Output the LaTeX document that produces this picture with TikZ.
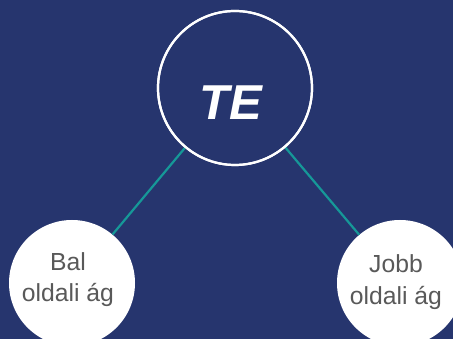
\documentclass[tikz,border=0pt]{standalone}
\usepackage{fontspec}
\setmainfont{Liberation Sans}
\definecolor{bgblue}{RGB}{38,53,110}
\definecolor{tealline}{RGB}{22,152,152}
\definecolor{txtgray}{RGB}{89,89,89}
\begin{document}
\begin{tikzpicture}[x=1pt,y=1pt,
  bubble/.style={circle,fill=white,draw=none,minimum size=126pt,inner sep=0pt},
  mainring/.style={circle,draw=white,line width=2.2pt,minimum size=154pt,inner sep=0pt},
  branchtxt/.style={align=center,text=txtgray,font=\fontsize{24.7pt}{31.7pt}\selectfont,inner sep=0pt},
  link/.style={draw=tealline,line width=2.2pt}]
\fill[bgblue] (0,0) rectangle (453,339);
\useasboundingbox (0,0) rectangle (453,339);
\node[mainring] (te) at (235,251) {};
\node[bubble] (left) at (72,56) {};
\node[bubble] (right) at (400,56) {};
\draw[link] (te) -- (left);
\draw[link] (te) -- (right);
\node[mainring] at (te.center) {};
\node[text=white,font=\fontsize{49pt}{49pt}\selectfont\bfseries\itshape,inner sep=0pt] (telabel) at (231,236.5) {TE};
\node[branchtxt] (lefttxt) at (68,59.5) {Bal\\oldali ág};
\node[branchtxt] (righttxt) at (396,57) {Jobb\\oldali ág};
\end{tikzpicture}
\end{document}
